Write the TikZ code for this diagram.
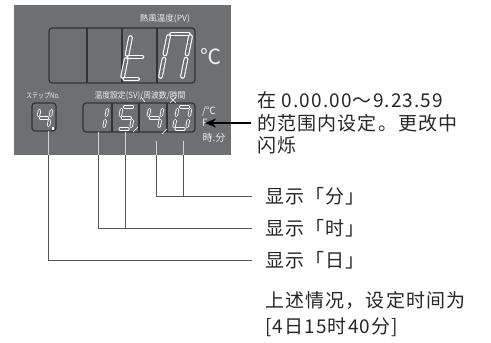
\documentclass[tikz,border=0pt]{standalone}
\usepackage{fontspec}
\newfontfamily\scf[LetterSpace=6]{Noto Sans CJK SC}
\newfontfamily\jpf{Noto Sans CJK JP}
\usetikzlibrary{arrows.meta}
\definecolor{panelgray}{HTML}{6E6F71}
\definecolor{celledge}{HTML}{343434}
\definecolor{lbl}{HTML}{EDEDED}
\definecolor{conn}{HTML}{555555}
\definecolor{connin}{HTML}{D4D4D4}
\tikzset{
  segtop/.style={draw=white, line width=1.1pt, double=panelgray, double distance=2.6pt, line cap=round},
  segbot/.style={draw=white, line width=0.85pt, double=panelgray, double distance=1.7pt, line cap=round},
  cellbox/.style={draw=celledge, line width=1.2pt, rounded corners=3pt},
  celldiv/.style={draw=celledge, line width=1.1pt},
  panlbl/.style={text=lbl, inner sep=0pt, font=\jpf\fontsize{8.5}{9}\selectfont},
  conline/.style={draw=conn, line width=0.9pt},
  coninner/.style={draw=connin, line width=0.9pt},
  txt/.style={anchor=west, inner sep=0pt, font=\scf\fontsize{19}{22}\selectfont, text=black!85},
}
\newcommand\segline[4]{\draw[seg] (#1,#2) -- (#3,#4);}
\newcommand\sA{\segline{\dg}{0}{\dW-\dg}{0}}
\newcommand\sB{\segline{\dW}{\dg}{\dW}{\dH/2-\dg}}
\newcommand\sC{\segline{\dW}{\dH/2+\dg}{\dW}{\dH-\dg}}
\newcommand\sD{\segline{\dg}{\dH}{\dW-\dg}{\dH}}
\newcommand\sE{\segline{0}{\dH/2+\dg}{0}{\dH-\dg}}
\newcommand\sF{\segline{0}{\dg}{0}{\dH/2-\dg}}
\newcommand\sG{\segline{\dg}{\dH/2}{\dW-\dg}{\dH/2}}
\newcommand\sevdigit[6]{%
\begin{scope}[shift={(#1,#2)}, xslant=0.2, seg/.style={#5}]
\def\dW{#3}\def\dH{#4}\def\dg{2.6}
#6
\end{scope}}
\begin{document}
\begin{tikzpicture}[x=1pt, y=-1pt]
\useasboundingbox (0,0) rectangle (491,343);
% panel
\fill[panelgray] (14,5) rectangle (231,155);
% top display
\draw[cellbox] (49,28) rectangle (195,83);
\draw[celldiv] (87,28) -- (87,83) (122,28) -- (122,83) (157,28) -- (157,83);
\node[panlbl] (pvlbl) at (165,19) {熱風温度(PV)};
\node[text=lbl, inner sep=0pt, font=\jpf\fontsize{21}{22}\selectfont] (degc) at (211,57) {℃};
\sevdigit{131}{35}{18}{44}{segtop}{\sF\sE\sG\sD}
\sevdigit{169}{34}{22}{45}{segtop}{\sA\sB\sC\sE\sF}
% step box
\draw[cellbox] (32,103) rectangle (56,131);
\node[panlbl, font=\jpf\fontsize{7.5}{8}\selectfont, xscale=0.8, transform shape] (steplbl) at (43,96) {ステップNo.};
\sevdigit{40}{108}{12}{20}{segbot}{\sF\sG\sB\sC}
\fill[white] (51.5,127) rectangle (53.5,129.5);
% bottom display
\draw[cellbox] (83,103) rectangle (195,132);
\draw[celldiv] (112,103) -- (112,132) (139,103) -- (139,132) (167,103) -- (167,132);
\node[panlbl, font=\jpf\fontsize{8.5}{9}\selectfont, xscale=0.92, transform shape] (svlbl) at (140,96) {温度設定(SV)/周波数/時間};
\sevdigit{95}{107}{13}{22}{segbot}{\sB\sC}
\sevdigit{122}{107}{13}{22}{segbot}{\sA\sF\sG\sC\sD}
\sevdigit{150}{107}{13}{22}{segbot}{\sF\sG\sB\sC}
\sevdigit{178}{107}{13}{22}{segbot}{\sA\sB\sC\sD\sE\sF}
\draw[white, line width=0.7pt] (133,132) -- (138,127) (162,134) -- (167,129)
  (141,97) -- (145,102) (170,97) -- (176,103) (176,97) -- (170,103);
% right labels
\node[panlbl, font=\jpf\fontsize{10}{10}\selectfont] (degc2) at (209,111) {/℃};
\node[panlbl, font=\jpf\fontsize{10}{10}\selectfont] (flbl) at (205,123) {F};
\node[panlbl, font=\jpf\fontsize{10}{10}\selectfont] (hmlbl) at (214,138) {時.分};
% arrow + text
\node[txt] (t1) at (257,100) {在 0.00.00～9.23.59};
\node[txt] (t2) at (257,123) {的范围内设定。更改中};
\node[txt] (t3) at (257,145) {闪烁};
\coordinate (arrs) at (251,123);
\coordinate (arrt) at (205,123);
\draw[line width=1.8pt, -{Stealth[length=11pt,width=9pt]}] (arrs) -- (arrt);
% labels
\node[txt] (lmin) at (265,196) {显示「分」};
\node[txt] (lhr) at (265,228) {显示「时」};
\node[txt] (lday) at (265,260) {显示「日」};
\node[txt] (n1) at (265,300) {上述情况，设定时间为};
\node[txt] (n2) at (265,327) {[4日15时40分]};
% connectors
\coordinate (sd0) at (48,131); \coordinate (sd1) at (48,155); \coordinate (sd2) at (48,260); \coordinate (e3) at (252,260);
\coordinate (h0) at (98,132); \coordinate (h1) at (98,155); \coordinate (h2) at (98,228); \coordinate (e2) at (252,228);
\coordinate (g0) at (125,132); \coordinate (g1) at (125,155); \coordinate (g2) at (125,228);
\coordinate (m0) at (156,141); \coordinate (m1) at (156,155); \coordinate (m2) at (156,196); \coordinate (e1) at (252,196);
\coordinate (k0) at (183,141); \coordinate (k1) at (183,155); \coordinate (k2) at (183,196);
\draw[coninner] (sd0) -- (sd1) (h0) -- (h1) (g0) -- (g1) (m0) -- (m1) (k0) -- (k1);
\draw[conline] (sd1) -- (sd2) -- (e3);
\draw[conline] (h1) -- (h2) -- (e2) (g1) -- (g2);
\draw[conline] (m1) -- (m2) -- (e1) (k1) -- (k2);
\end{tikzpicture}
\end{document}
